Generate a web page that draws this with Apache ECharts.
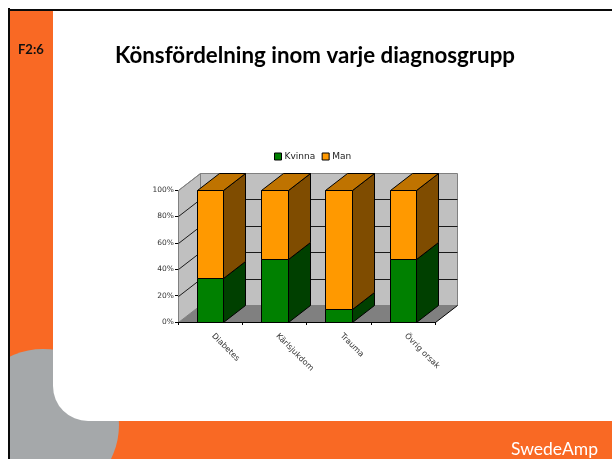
<!DOCTYPE html>
<html>
<head>
<meta charset="utf-8">
<style>html,body{margin:0;padding:0;background:#fff}#chart{width:612px;height:459px}</style>
<script src="https://cdn.jsdelivr.net/npm/echarts@6/dist/echarts.min.js"></script>
</head>
<body>
<div id="chart"></div>
<script>
const categories = ["Diabetes", "Kärlsjukdom", "Trauma", "Övrig orsak"];
const kvinna = [33, 48, 10, 48];
const man = [67, 52, 90, 52];
const yTicks = [0, 20, 40, 60, 80, 100];

const orange = "#f96924";
const depthX = 22, depthY = 17;

let myChart = echarts.init(document.getElementById("chart"));

// 3d box for one stacked segment
function renderBox(colors, withTop) {
  return function(params, api) {
    let i = api.value(0);
    let p0 = api.coord([i, api.value(1)]);
    let p1 = api.coord([i, api.value(2)]);
    let w = api.size([1, 0])[0] * 0.415;
    let l = Math.round(p0[0] - w / 2) + 0.5, r = Math.round(p0[0] + w / 2) + 0.5;
    let b = Math.round(p0[1]) + 0.5, t = Math.round(p1[1]) + 0.5;
    let line = { stroke: "#000", lineWidth: 1 };
    let kids = [
      { type: "polygon", shape: { points: [[r, b], [r + depthX, b - depthY], [r + depthX, t - depthY], [r, t]] },
        style: Object.assign({ fill: colors.side }, line) },
      { type: "rect", shape: { x: l, y: t, width: r - l, height: b - t },
        style: Object.assign({ fill: colors.front }, line) }
    ];
    if (withTop) {
      kids.push({ type: "polygon", shape: { points: [[l, t], [l + depthX, t - depthY], [r + depthX, t - depthY], [r, t]] },
        style: Object.assign({ fill: colors.top }, line) });
    }
    return { type: "group", children: kids };
  };
}

// walls, floor and gridlines
function renderWall(params, api) {
  let v = api.value(0);
  let g = params.coordSys;
  let l = g.x + 0.5, r = g.x + g.width + 0.5;
  let y = Math.round(api.coord([0, v])[1]) + 0.5;
  let kids = [];
  if (v === 0) {
    let t = Math.round(api.coord([0, 100])[1]) + 0.5;
    kids.push({ type: "polygon", shape: { points: [[l, y], [l + depthX, y - depthY], [l + depthX, t - depthY], [l, t]] },
      style: { fill: "#c0c0c0", stroke: "#808080", lineWidth: 1 } });
    kids.push({ type: "rect", shape: { x: l + depthX, y: t - depthY, width: r - l, height: y - t },
      style: { fill: "#c0c0c0", stroke: "#808080", lineWidth: 1 } });
    kids.push({ type: "polygon", shape: { points: [[l, y], [l + depthX, y - depthY], [r + depthX, y - depthY], [r, y]] },
      style: { fill: "#808080" } });
    kids.push({ type: "line", shape: { x1: r, y1: y, x2: r + depthX, y2: y - depthY },
      style: { stroke: "#000", lineWidth: 1 } });
  } else if (v < 100) {
    kids.push({ type: "polyline", shape: { points: [[l, y], [l + depthX, y - depthY], [r + depthX, y - depthY]] },
      style: { fill: null, stroke: "#1a1a1a", lineWidth: 1 } });
  } else {
    kids.push({ type: "line", shape: { x1: l, y1: y, x2: l + depthX, y2: y - depthY },
      style: { stroke: "#808080", lineWidth: 1 } });
  }
  return { type: "group", children: kids };
}

let kvinnaData = categories.map((c, i) => [i, 0, kvinna[i]]);
let manData = categories.map((c, i) => [i, kvinna[i], kvinna[i] + man[i]]);

myChart.setOption({
  animation: false,
  textStyle: { fontFamily: "DejaVu Sans" },
  title: [
    { text: "Könsfördelning inom varje diagnosgrupp", left: 110, top: 40,
      textStyle: { fontFamily: "Lato", fontWeight: "bold", fontSize: 22.3, color: "#000" } },
    { text: "F2:6", left: 13, top: 38,
      textStyle: { fontFamily: "Lato", fontWeight: "bold", fontSize: 13, color: "#111" } },
    { text: "SwedeAmp", left: 506, top: 435,
      textStyle: { fontFamily: "Lato", fontWeight: "normal", fontSize: 17.5, color: "#fff" } }
  ],
  graphic: {
    elements: [
      { type: "rect", shape: { x: 0, y: 0, width: 612, height: 459 }, style: { fill: "#fff" }, z: -20 },
      { type: "rect", shape: { x: 10, y: 10, width: 602, height: 449 }, style: { fill: orange }, z: -19 },
      { type: "circle", shape: { cx: 43, cy: 425, r: 76 }, style: { fill: "#a5a8aa" }, z: -18 },
      { type: "rect", shape: { x: 53, y: 11, width: 600, height: 410, r: [0, 0, 0, 35] }, style: { fill: "#fff" }, z: -17 },
      { type: "rect", shape: { x: 0, y: 0, width: 8, height: 459 }, style: { fill: "#fff" }, z: -16 },
      { type: "rect", shape: { x: 8, y: 8, width: 2, height: 451 }, style: { fill: "#0a0a0a" }, z: -15 },
      { type: "rect", shape: { x: 8, y: 9, width: 604, height: 2 }, style: { fill: "#0a0a0a" }, z: -15 }
    ]
  },
  legend: {
    data: ["Kvinna", "Man"],
    left: 274,
    top: 152,
    padding: 0,
    itemWidth: 7,
    itemHeight: 7,
    itemGap: 6.5,
    icon: "rect",
    selectedMode: false,
    itemStyle: { borderColor: "#000", borderWidth: 1 },
    textStyle: { fontFamily: "DejaVu Sans", fontSize: 9, color: "#222", padding: [0, 0, 0, -2] }
  },
  grid: { left: 178, right: 177, top: 190, bottom: 137 },
  xAxis: {
    type: "category",
    data: categories,
    z: 4,
    axisLine: { lineStyle: { color: "#000", width: 1 } },
    axisTick: { show: true, length: 3, lineStyle: { color: "#000" } },
    axisLabel: { fontFamily: "DejaVu Sans", rotate: -45, fontSize: 8, color: "#333", margin: 10, interval: 0, padding: [0, 0, 0, 4] }
  },
  yAxis: {
    type: "value",
    min: 0,
    max: 100,
    interval: 20,
    z: 4,
    axisLine: { show: false },
    axisTick: { show: true, length: 3, lineStyle: { color: "#000" } },
    splitLine: { show: false },
    axisLabel: { fontFamily: "DejaVu Sans", formatter: "{value}%", fontSize: 7.5, color: "#333", margin: 4 }
  },
  series: [
    { name: "wall", type: "custom", z: 1, silent: true, renderItem: renderWall,
      data: yTicks.map(v => [v]), clip: false },
    { name: "Kvinna", type: "custom", z: 3, itemStyle: { color: "#008000" },
      renderItem: renderBox({ front: "#008000", side: "#004000" }, false),
      data: kvinnaData, encode: { x: 0, y: 2 } },
    { name: "Man", type: "custom", z: 3, itemStyle: { color: "#ff9900" },
      renderItem: renderBox({ front: "#ff9900", side: "#7f4c00", top: "#bf7300" }, true),
      data: manData, encode: { x: 0, y: 2 } }
  ]
});
</script>
</body>
</html>
